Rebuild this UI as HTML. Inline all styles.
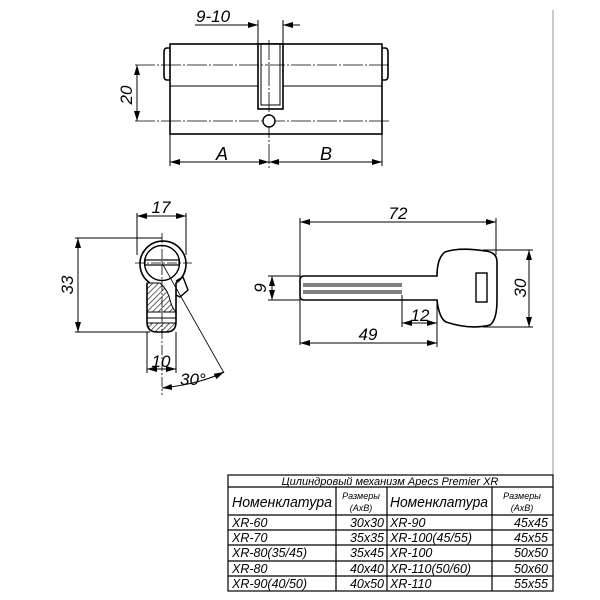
<!DOCTYPE html>
<html><head><meta charset="utf-8"><style>
html,body{margin:0;padding:0;background:#fff;width:600px;height:600px;overflow:hidden}
svg{display:block}
text{font-family:"Liberation Sans",sans-serif;font-style:italic;fill:#000}
</style></head><body>
<svg width="600" height="600" viewBox="0 0 600 600" xmlns="http://www.w3.org/2000/svg">
<defs>
<marker id="a" viewBox="0 0 10 6" refX="10" refY="3" markerWidth="10" markerHeight="6" orient="auto-start-reverse" markerUnits="userSpaceOnUse"><path d="M0,0L10,3L0,6z" fill="#000"/></marker>
<pattern id="h" width="4" height="4" patternUnits="userSpaceOnUse" patternTransform="rotate(45)"><line x1="0" y1="0" x2="0" y2="4" stroke="#000" stroke-width="1.2"/></pattern>
</defs>
<line x1="553" y1="10" x2="553" y2="475" stroke="#999" stroke-width="1"/>
<g stroke="#000" fill="none" stroke-width="1">
<rect x="170" y="44" width="212" height="90" stroke-width="1.6"/>
<path d="M170,48 h-3 q-3,0 -3,4 v24 q0,4 3,4 h3" stroke-width="1.6"/>
<path d="M382,48 h3 q3,0 3,4 v24 q0,4 -3,4 h-3" stroke-width="1.6"/>
<line x1="170" y1="86" x2="382" y2="86"/>
<rect x="258" y="44" width="25" height="65" fill="#fff" stroke-width="1.6"/>
<rect x="261" y="44" width="19" height="61"/>
<line x1="135" y1="65" x2="390" y2="65" stroke-dasharray="20,2,2,2" stroke-width="0.8"/>
<line x1="135" y1="121" x2="390" y2="121" stroke-dasharray="20,2,2,2" stroke-width="0.8"/>
<line x1="269" y1="40" x2="269" y2="168" stroke-dasharray="20,2,2,2" stroke-width="0.8"/>
<circle cx="269" cy="121" r="6" fill="#fff" stroke-width="1.4"/>
<line x1="137" y1="65" x2="137" y2="121" marker-start="url(#a)" marker-end="url(#a)"/>
<line x1="170" y1="134" x2="170" y2="166"/>
<line x1="382" y1="134" x2="382" y2="166"/>
<line x1="170" y1="162" x2="269" y2="162" marker-start="url(#a)" marker-end="url(#a)"/>
<line x1="269" y1="162" x2="382" y2="162" marker-start="url(#a)" marker-end="url(#a)"/>
<line x1="258" y1="20" x2="258" y2="44"/>
<line x1="283" y1="20" x2="283" y2="44"/>
<line x1="195" y1="25" x2="258" y2="25"/>
<line x1="245" y1="25" x2="258" y2="25" marker-end="url(#a)"/>
<line x1="300" y1="25" x2="283" y2="25" marker-end="url(#a)"/>
<path d="M150,283 A23,23 0 1 1 176,283 L176,322 Q176,332 166,332 L157,332 Q147,332 147,322 L147,283" fill="#fff" stroke-width="1.6"/>
<circle cx="162" cy="263" r="17.5" stroke-width="1.4"/>
<path d="M147,283 L160,283 Q168,290 170,300 Q172,308 176,312 L147,312 Z" fill="url(#h)"/>
<path d="M147,323 L176,323 Q175,332 166,332 L157,332 Q148,332 147,323 Z" fill="url(#h)"/>
<line x1="147" y1="318" x2="176" y2="318"/>
<rect x="145" y="260" width="34" height="5" stroke-width="1.2"/>
<path d="M176,281 L183,277 L188,290 L180,297 L176,295" stroke-width="1.4"/>
<line x1="135" y1="263" x2="192" y2="263" stroke-dasharray="10,2,2,2" stroke-width="0.8"/>
<line x1="162" y1="233" x2="162" y2="395" stroke-dasharray="10,2,2,2" stroke-width="0.8"/>
<line x1="162" y1="263" x2="224" y2="373" stroke-width="0.8"/>
<line x1="137" y1="213" x2="137" y2="255"/>
<line x1="186" y1="213" x2="186" y2="255"/>
<line x1="137" y1="216" x2="186" y2="216" marker-start="url(#a)" marker-end="url(#a)"/>
<line x1="75" y1="238" x2="162" y2="238"/>
<line x1="75" y1="332" x2="150" y2="332"/>
<line x1="78" y1="238" x2="78" y2="332" marker-start="url(#a)" marker-end="url(#a)"/>
<line x1="147" y1="332" x2="147" y2="373"/>
<line x1="176" y1="332" x2="176" y2="373"/>
<line x1="147" y1="369" x2="176" y2="369" marker-start="url(#a)" marker-end="url(#a)"/>
<path d="M162,388 Q200,384 224,372" marker-start="url(#a)" marker-end="url(#a)"/>
<path d="M437,276 L304,276 Q300,276 300,280 L300,296 Q300,300 304,300 L437,300 Q439,318 446,322 Q470,330 490,325 Q497,320 497,300 L497,262 Q497,252 485,251 Q460,247 445,252 Q437,258 437,276 Z" stroke-width="1.6"/>
<line x1="303" y1="284" x2="402" y2="284"/>
<line x1="303" y1="286" x2="402" y2="286"/>
<line x1="303" y1="291" x2="402" y2="291"/>
<line x1="303" y1="293" x2="402" y2="293"/>
<rect x="476" y="273" width="11" height="29" stroke-width="1.4"/>
<line x1="300" y1="218" x2="300" y2="345"/>
<line x1="496" y1="218" x2="496" y2="255"/>
<line x1="300" y1="222" x2="496" y2="222" marker-start="url(#a)" marker-end="url(#a)"/>
<line x1="483" y1="250" x2="533" y2="250"/>
<line x1="483" y1="327" x2="533" y2="327"/>
<line x1="529" y1="250" x2="529" y2="327" marker-start="url(#a)" marker-end="url(#a)"/>
<line x1="268" y1="276" x2="300" y2="276"/>
<line x1="268" y1="300" x2="300" y2="300"/>
<line x1="272" y1="276" x2="272" y2="300" marker-start="url(#a)" marker-end="url(#a)"/>
<line x1="402" y1="295" x2="402" y2="327"/>
<line x1="437" y1="300" x2="437" y2="347"/>
<line x1="402" y1="323" x2="437" y2="323" marker-start="url(#a)" marker-end="url(#a)"/>
<line x1="300" y1="343" x2="437" y2="343" marker-start="url(#a)" marker-end="url(#a)"/>
</g>
<text x="196" y="22" font-size="17">9-10</text>
<text x="132" y="95" font-size="17" transform="rotate(-90 132 95)" text-anchor="middle">20</text>
<text x="222" y="160" font-size="18" text-anchor="middle">A</text>
<text x="326" y="160" font-size="18" text-anchor="middle">B</text>
<text x="161" y="213" font-size="17" text-anchor="middle">17</text>
<text x="73" y="285" font-size="17" transform="rotate(-90 73 285)" text-anchor="middle">33</text>
<text x="161" y="367" font-size="17" text-anchor="middle">10</text>
<text x="180" y="385" font-size="17">30°</text>
<text x="398" y="219" font-size="17" text-anchor="middle">72</text>
<text x="266" y="288" font-size="17" transform="rotate(-90 266 288)" text-anchor="middle">9</text>
<text x="526" y="288" font-size="17" transform="rotate(-90 526 288)" text-anchor="middle">30</text>
<text x="420" y="321" font-size="17" text-anchor="middle">12</text>
<text x="368" y="340" font-size="17" text-anchor="middle">49</text>
<g stroke="#000" fill="none" stroke-width="1.2">
<rect x="228" y="475" width="325" height="116"/>
<line x1="228" y1="487" x2="553" y2="487"/>
<line x1="228" y1="515" x2="553" y2="515"/>
<line x1="228" y1="530" x2="553" y2="530"/>
<line x1="228" y1="545" x2="553" y2="545"/>
<line x1="228" y1="561" x2="553" y2="561"/>
<line x1="228" y1="576" x2="553" y2="576"/>
<line x1="336" y1="487" x2="336" y2="591"/>
<line x1="387" y1="487" x2="387" y2="591"/>
<line x1="492" y1="487" x2="492" y2="591"/>
</g>
<g font-size="12.5">
<text x="390" y="485" font-size="11" text-anchor="middle">Цилиндровый механизм Apecs Premier XR</text>
<text x="232" y="507" font-size="15" textLength="100" lengthAdjust="spacingAndGlyphs">Номенклатура</text>
<text x="390" y="507" font-size="15" textLength="98" lengthAdjust="spacingAndGlyphs">Номенклатура</text>
<text x="361" y="499" font-size="9" text-anchor="middle">Размеры</text>
<text x="361" y="511" font-size="9" text-anchor="middle">(АхВ)</text>
<text x="522" y="499" font-size="9" text-anchor="middle">Размеры</text>
<text x="522" y="511" font-size="9" text-anchor="middle">(АхВ)</text>
<text x="232" y="527">XR-60</text><text x="384" y="527" text-anchor="end">30x30</text><text x="390" y="527">XR-90</text><text x="548" y="527" text-anchor="end">45x45</text>
<text x="232" y="542">XR-70</text><text x="384" y="542" text-anchor="end">35x35</text><text x="390" y="542">XR-100(45/55)</text><text x="548" y="542" text-anchor="end">45x55</text>
<text x="232" y="557">XR-80(35/45)</text><text x="384" y="557" text-anchor="end">35x45</text><text x="390" y="557">XR-100</text><text x="548" y="557" text-anchor="end">50x50</text>
<text x="232" y="573">XR-80</text><text x="384" y="573" text-anchor="end">40x40</text><text x="390" y="573">XR-110(50/60)</text><text x="548" y="573" text-anchor="end">50x60</text>
<text x="232" y="588">XR-90(40/50)</text><text x="384" y="588" text-anchor="end">40x50</text><text x="390" y="588">XR-110</text><text x="548" y="588" text-anchor="end">55x55</text>
</g>
</svg>
</body></html>
